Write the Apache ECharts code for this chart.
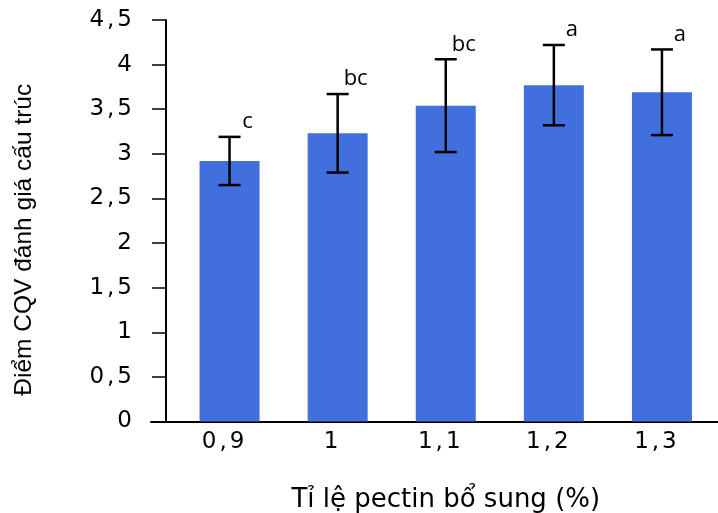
<!DOCTYPE html>
<html lang="vi">
<head>
<meta charset="utf-8">
<title>Điểm CQV đánh giá cấu trúc</title>
<script src="https://cdn.jsdelivr.net/npm/echarts@6.0.0/dist/echarts.min.js"></script>
<style>
  html, body { margin: 0; padding: 0; background: #fff; }
  #chart { width: 718px; height: 513px; }
</style>
</head>
<body>
<div id="chart"></div>
<script>
// 数据
const categories = ['0,9', '1', '1,1', '1,2', '1,3']
const means = [2.92, 3.23, 3.54, 3.77, 3.69]
const errors = [0.27, 0.44, 0.52, 0.45, 0.48]
const letters = ['c', 'bc', 'bc', 'a', 'a']
const yTickLabels = ['0', '0,5', '1', '1,5', '2', '2,5', '3', '3,5', '4', '4,5']

const chart = echarts.init(document.getElementById('chart'), null, { renderer: 'canvas' })

// 刻度标签字体（原图字符间距较宽，逗号两侧加一点留白）
const tickFont = { fontFamily: '"DejaVu Sans", sans-serif', fontSize: 23, color: '#000' }
const tickRich = {
  n: { ...tickFont },
  c: { ...tickFont, padding: [0, 3, 0, 3] }
}
const spaced = s => '{n|' + s.replace(',', '}{c|,}{n|') + '}'

// 误差线 + 字母标注
const errorData = means.map((m, i) => [i, m - errors[i], m + errors[i]])

const renderErrorBar = (params, api) => {
  const x = api.value(0)
  const lo = api.coord([x, api.value(1)])
  const hi = api.coord([x, api.value(2)])
  const half = 11
  const lineStyle = { stroke: '#000', lineWidth: 2.5 }
  return {
    type: 'group',
    children: [
      { type: 'line', shape: { x1: hi[0], y1: hi[1], x2: lo[0], y2: lo[1] }, style: lineStyle },
      { type: 'line', shape: { x1: hi[0] - half, y1: hi[1], x2: hi[0] + half, y2: hi[1] }, style: lineStyle },
      { type: 'line', shape: { x1: lo[0] - half, y1: lo[1], x2: lo[0] + half, y2: lo[1] }, style: lineStyle },
      {
        type: 'text',
        x: hi[0] + 18,
        y: hi[1] - 4,
        style: {
          text: letters[params.dataIndex],
          fontFamily: '"Open Sans", "Noto Sans", sans-serif',
          fontSize: 22,
          fill: '#000',
          align: 'center',
          verticalAlign: 'bottom'
        }
      }
    ]
  }
}

const option = {
  backgroundColor: '#fff',
  animation: false,
  grid: [
    { left: 175.5, right: 2, top: 20, bottom: 91.5, outerBoundsMode: 'none', containLabel: false },
    // 只用来画横轴线（从纵轴左侧刻度一直到右边）
    { left: 151, right: 0, top: 20, bottom: 91.5, outerBoundsMode: 'none', containLabel: false }
  ],
  xAxis: [
    {
      type: 'category',
      gridIndex: 0,
      data: categories,
      axisLine: { show: false },
      axisTick: { show: false },
      axisLabel: {
        ...tickFont,
        interval: 0,
        margin: 9,
        padding: [0, 13, 0, 0],
        formatter: v => spaced(v),
        rich: tickRich
      },
      name: 'Tỉ lệ pectin bổ sung (%)',
      nameLocation: 'middle',
      nameGap: 66,
      nameTextStyle: {
        color: '#000',
        fontFamily: '"DejaVu Sans", sans-serif',
        fontSize: 26
      }
    },
    {
      type: 'value',
      gridIndex: 1,
      min: 0,
      max: 1,
      axisLine: { show: true, onZero: false, lineStyle: { color: '#000', width: 2 } },
      axisTick: { show: false },
      axisLabel: { show: false },
      splitLine: { show: false }
    }
  ],
  yAxis: [
    {
      type: 'value',
      gridIndex: 0,
      min: 0,
      max: 4.5,
      interval: 0.5,
      offset: 9.5,
      axisLine: { show: true, lineStyle: { color: '#000', width: 2 } },
      axisTick: { show: true, length: 14, lineStyle: { color: '#000', width: 1.5 } },
      axisLabel: {
        ...tickFont,
        margin: 34,
        formatter: (v, idx) => spaced(yTickLabels[idx]),
        rich: tickRich
      },
      splitLine: { show: false },
      name: 'Điểm CQV đánh giá cấu trúc',
      nameLocation: 'middle',
      nameGap: 129,
      nameTextStyle: {
        color: '#000',
        fontFamily: '"Liberation Sans", Arial, sans-serif',
        fontSize: 24.5,
        padding: [0, 38, 0, 0]
      }
    },
    { type: 'value', gridIndex: 1, min: 0, max: 1, show: false }
  ],
  series: [
    {
      name: 'Điểm',
      type: 'bar',
      xAxisIndex: 0,
      yAxisIndex: 0,
      data: means,
      barWidth: 60,
      itemStyle: { color: '#4170de' }
    },
    {
      name: 'SD',
      type: 'custom',
      xAxisIndex: 0,
      yAxisIndex: 0,
      data: errorData,
      encode: { x: 0, y: [1, 2] },
      renderItem: renderErrorBar,
      z: 3
    }
  ]
}

chart.setOption(option)
</script>
</body>
</html>
